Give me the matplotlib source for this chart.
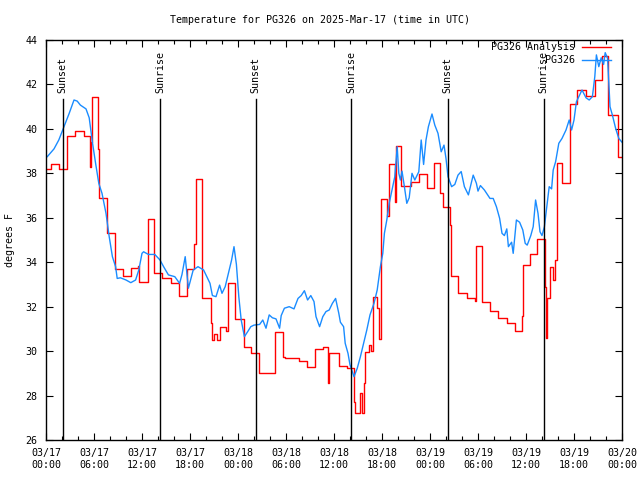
import matplotlib
matplotlib.use('Agg')
import matplotlib.pyplot as plt
import matplotlib.dates as mdates
import pandas as pd

# start of the plotted period (UTC)
start = pd.Timestamp('2025-03-17 00:00')

# station observations: hours after start, temperature (F)
obs_hours = [0.16, 1.0, 1.6, 2.25, 2.9, 3.5, 3.9, 4.3, 5.0, 5.4, 5.8, 6.2, 6.6, 7.0, 7.5, 7.9,
             8.3, 8.7, 8.9, 9.3, 10.0, 10.6, 11.2, 11.6, 12.0, 12.2, 12.8, 13.6, 14.25, 14.7,
             15.3, 16.1, 16.7, 17.0, 17.4, 17.8, 18.4, 19.0, 19.7, 20.5, 20.8, 21.25, 21.7,
             22.0, 22.4, 22.8, 23.2, 23.5, 23.8, 24.1, 24.4, 24.8, 25.2, 25.6, 26.0, 26.7,
             27.1, 27.5, 27.9, 28.3, 28.75, 29.2, 29.4, 29.8, 30.4, 31.0, 31.5, 31.9, 32.3,
             32.7, 33.1, 33.5, 33.75, 34.2, 34.6, 35.0, 35.4, 35.8, 36.2, 36.6, 36.8, 37.2,
             37.4, 37.75, 38.0, 38.5, 38.9, 39.3, 39.7, 40.1, 40.5, 41.0, 41.4, 41.8, 42.1,
             42.3, 42.6, 42.9, 43.25, 43.6, 43.9, 44.1, 44.3, 44.5, 44.8, 45.1, 45.4, 45.75,
             46.1, 46.6, 46.9, 47.2, 47.5, 47.8, 48.25, 48.6, 49.0, 49.4, 49.75, 50.0, 50.25,
             50.7, 51.1, 51.5, 51.9, 52.3, 52.8, 53.4, 53.8, 54.0, 54.3, 54.8, 55.5, 55.9,
             56.3, 56.7, 57.0, 57.3, 57.6, 57.8, 58.2, 58.4, 58.8, 59.2, 59.6, 59.9, 60.15,
             60.6, 60.9, 61.2, 61.5, 61.75, 62.0, 62.3, 62.6, 62.9, 63.2, 63.4, 63.7, 64.1,
             64.5, 65.0, 65.4, 65.7, 66.0, 66.3, 66.6, 67.0, 67.5, 67.9, 68.3, 68.6, 68.8,
             69.1, 69.4, 69.7, 69.9, 70.2, 70.5, 70.8, 71.2, 71.6, 72.0]
obs_temp = [38.75, 39.1, 39.5, 40.1, 40.7, 41.3, 41.25, 41.07, 40.9, 40.5, 39.4, 38.45, 37.55,
            37.1, 36.2, 35.15, 34.25, 33.8, 33.27, 33.3, 33.2, 33.08, 33.2, 33.65, 34.4, 34.47,
            34.35, 34.35, 34.1, 33.8, 33.43, 33.35, 33.05, 33.45, 34.25, 32.83, 33.65, 33.8,
            33.65, 33.05, 32.5, 32.45, 32.97, 32.6, 32.9, 33.5, 34.1, 34.7, 33.9, 32.45, 31.4,
            30.65, 30.87, 31.1, 31.17, 31.2, 31.4, 31.03, 31.63, 31.5, 31.45, 31.03, 31.6,
            31.93, 32.0, 31.9, 32.37, 32.5, 32.72, 32.3, 32.5, 32.23, 31.55, 31.1, 31.55, 31.78,
            31.85, 32.15, 32.37, 31.7, 31.3, 31.1, 30.35, 29.9, 29.38, 28.85, 29.22, 29.75,
            30.35, 30.95, 31.63, 32.15, 32.75, 33.8, 34.4, 35.3, 35.9, 36.65, 37.25, 37.85,
            39.2, 38.0, 37.7, 38.1, 37.4, 36.65, 36.9, 38.0, 37.7, 38.07, 39.5, 38.4, 39.5,
            40.1, 40.67, 40.17, 39.8, 38.97, 39.27, 38.67, 37.85, 37.4, 37.5, 37.92, 38.08,
            37.4, 37.03, 37.92, 37.55, 37.2, 37.45, 37.25, 36.87, 36.87, 36.5, 35.98, 35.3,
            35.2, 35.5, 34.7, 34.9, 34.4, 35.9, 35.8, 35.45, 34.85, 34.77, 35.2, 35.6, 36.8,
            36.2, 35.37, 35.2, 35.6, 36.5, 37.4, 37.3, 38.15, 38.52, 39.35, 39.57, 39.95,
            40.4, 39.95, 40.4, 41.22, 41.45, 41.75, 41.4, 41.3, 41.45, 42.35, 43.33, 42.8,
            43.2, 42.9, 43.43, 43.17, 41.0, 40.62, 40.03, 39.57, 39.4]

# analysis: hours after start where the value changes, temperature (F)
ana_hours = [0.0, 0.6, 1.6, 2.6, 3.6, 4.7, 5.5, 5.6, 5.75, 6.5, 6.6, 7.6, 8.6, 9.6, 10.6, 11.5,
             11.6, 12.7, 13.5, 14.5, 15.6, 16.6, 17.6, 18.5, 18.8, 19.5, 20.6, 20.7, 21.0, 21.4,
             21.7, 22.5, 22.75, 23.6, 24.7, 25.6, 26.6, 27.6, 28.6, 29.6, 29.9, 31.6, 32.6,
             33.6, 34.6, 35.3, 35.4, 36.6, 37.6, 38.5, 38.6, 39.2, 39.45, 39.7, 39.9, 40.35,
             40.6, 40.9, 41.4, 41.6, 41.9, 42.6, 42.9, 43.6, 43.8, 44.4, 45.6, 46.6, 47.6, 48.5,
             49.3, 49.6, 50.5, 50.6, 51.5, 52.6, 53.6, 53.7, 54.5, 55.5, 56.5, 57.6, 58.6, 59.5,
             59.6, 60.5, 61.4, 62.4, 62.5, 62.6, 62.96, 63.4, 63.6, 63.9, 64.5, 65.5, 66.4, 67.5,
             68.6, 69.5, 70.2, 71.5, 72.0]
ana_temp = [38.2, 38.4, 38.2, 39.7, 39.9, 39.7, 38.3, 39.4, 41.45, 39.1, 36.9, 35.3, 33.7, 33.4,
            33.75, 33.85, 33.1, 35.93, 33.5, 33.3, 33.08, 32.5, 33.7, 34.8, 37.73, 32.37, 31.25,
            30.5, 30.77, 30.5, 31.1, 30.9, 33.05, 31.43, 30.17, 29.9, 29.0, 29.03, 30.86, 29.75,
            29.7, 29.55, 29.28, 30.1, 30.2, 28.55, 29.9, 29.34, 29.25, 27.7, 27.2, 28.1, 27.2,
            28.55, 29.97, 30.27, 30.0, 32.42, 31.94, 30.55, 36.83, 36.1, 38.4, 36.72, 39.23,
            37.43, 37.62, 37.97, 37.32, 38.45, 37.1, 36.5, 35.67, 33.38, 32.63, 32.37, 32.25,
            34.74, 32.23, 31.82, 31.47, 31.28, 30.9, 31.58, 33.88, 34.35, 35.03, 32.87, 30.57,
            32.4, 33.8, 33.2, 34.1, 38.45, 37.55, 41.1, 41.75, 41.5, 42.2, 43.28, 40.62, 38.75,
            38.75]

# sunrise / sunset (hours after start)
sun_hours = [2.1, 14.3, 26.2, 38.15, 50.2, 62.2]
sun_labels = ['Sunset', 'Sunrise', 'Sunset', 'Sunrise', 'Sunset', 'Sunrise']

obs_time = start + pd.to_timedelta(obs_hours, unit='h')
ana_time = start + pd.to_timedelta(ana_hours, unit='h')
sun_time = start + pd.to_timedelta(sun_hours, unit='h')

plt.rcParams['font.family'] = ['DejaVu Sans Mono']
fs = 7.2

fig = plt.figure(figsize=(6.4, 4.8), dpi=100)
ax = fig.add_axes([46 / 640, 40 / 480, 576 / 640, 400 / 480])

ax.plot(ana_time, ana_temp, color='#ff0000', lw=1.0, drawstyle='steps-post', label='PG326 Analysis')
ax.plot(obs_time, obs_temp, color='#1a8cff', lw=1.0, label='PG326')

for t, lab in zip(sun_time, sun_labels):
    ax.plot([t, t], [0, 0.8525], color='black', lw=1.0, transform=ax.get_xaxis_transform())
    ax.text(t, 0.868, lab, rotation=90, ha='center', va='bottom', fontsize=fs,
            transform=ax.get_xaxis_transform())

ax.set_xlim(start, start + pd.Timedelta(hours=72))
ax.set_ylim(26, 44)
ax.set_yticks(range(26, 45, 2))
ax.xaxis.set_major_locator(mdates.HourLocator(byhour=range(0, 24, 6)))
ax.xaxis.set_minor_locator(mdates.HourLocator(byhour=range(0, 24, 2)))
ax.xaxis.set_major_formatter(mdates.DateFormatter('%m/%d\n%H:%M'))

ax.tick_params(which='both', direction='in', top=True, right=True, labelsize=fs, width=0.8)
ax.tick_params(which='major', length=5, pad=6)
ax.tick_params(which='minor', length=3)
for s in ax.spines.values():
    s.set_linewidth(1.0)

ax.set_ylabel('degrees F', fontsize=fs, labelpad=8)
fig.text(0.5, 1 - 20 / 480, 'Temperature for PG326 on 2025-Mar-17 (time in UTC)',
         ha='center', va='center', fontsize=fs)

ax.legend(loc='upper right', bbox_to_anchor=(611 / 640, 1 - 42 / 480),
          bbox_transform=fig.transFigure, frameon=False, markerfirst=False,
          fontsize=fs, handlelength=2.9, handletextpad=0.7, labelspacing=0.3,
          borderpad=0, borderaxespad=0)

plt.savefig('out.png', dpi=100)
